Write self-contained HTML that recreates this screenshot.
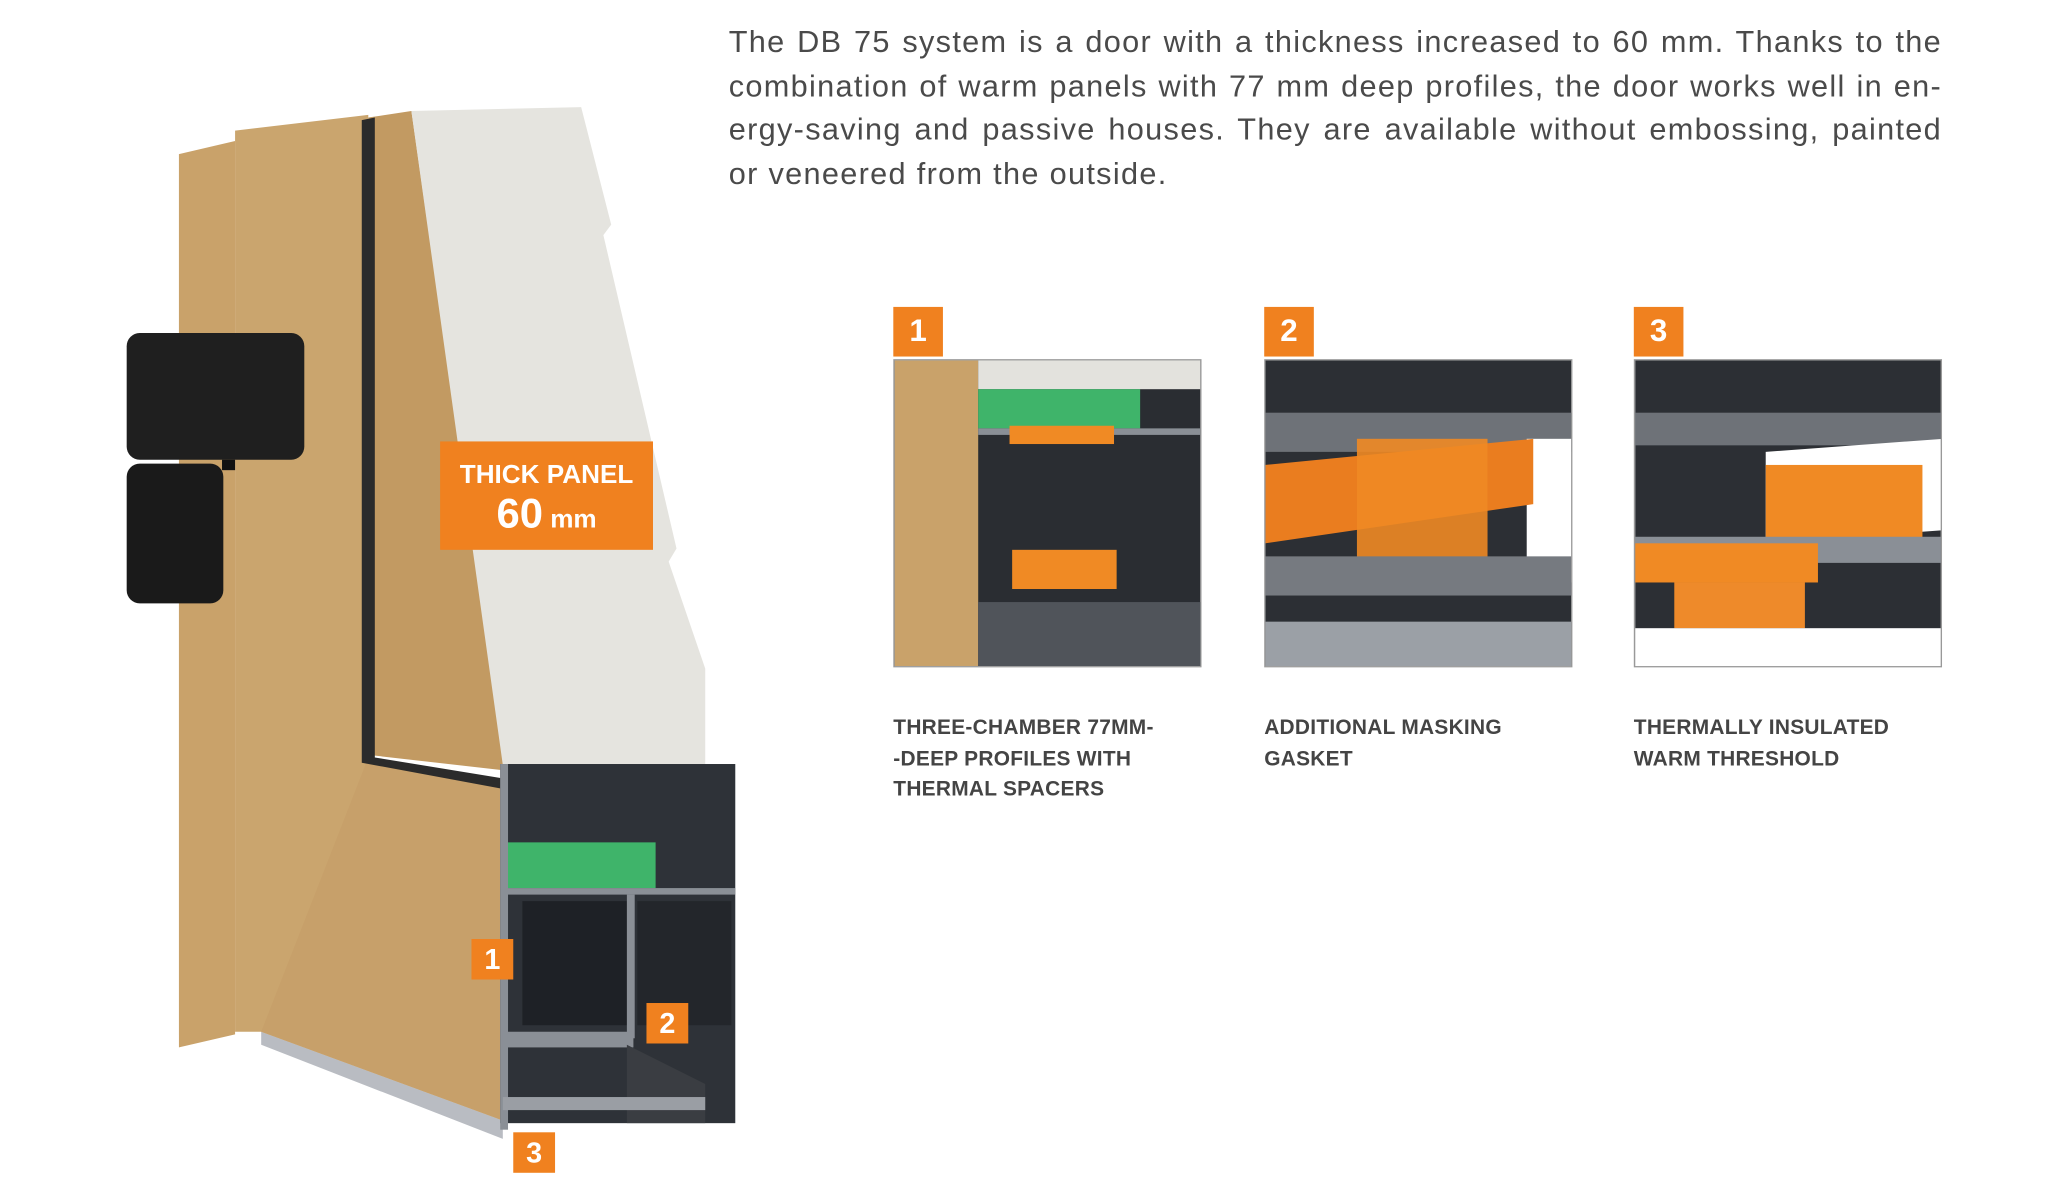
<!DOCTYPE html>
<html><head><meta charset="utf-8"><style>
html,body{margin:0;padding:0;background:#fff;width:2048px;height:1190px;overflow:hidden}
#w{position:absolute;left:0;top:0;width:1570px;height:912px;transform:scale(1.306);transform-origin:0 0;font-family:"Liberation Sans",sans-serif}
.p{position:absolute;left:558px;top:16px;width:929px;font-size:23.5px;line-height:33.5px;color:#4a4a4a;letter-spacing:1px}
.p div{text-align:justify;text-align-last:justify;white-space:nowrap}
.p div.l{text-align-last:left}
.b{position:absolute;background:#f0811f;color:#fff;font-weight:bold;text-align:center}
.cap{position:absolute;top:546px;font-size:16px;line-height:23.5px;font-weight:bold;color:#444;letter-spacing:0.2px}
.th{position:absolute;top:275px;width:236px;height:236px;border:1px solid #999;box-sizing:border-box;overflow:hidden}
</style></head><body><div id="w">
<div class="p"><div>The DB 75 system is a door with a thickness increased to 60 mm. Thanks to the</div><div>combination of warm panels with 77 mm deep profiles, the door works well in en-</div><div>ergy-saving and passive houses. They are available without embossing, painted</div><div class="l">or veneered from the outside.</div></div>

<svg style="position:absolute;left:0;top:0" width="620" height="906">
<polygon points="200,790 385,858 385,872 200,800" fill="#b9bcc2"/>
<polygon points="137,118 180,108 180,792 137,802" fill="#c9a26a"/>
<polygon points="180,100 282,88 282,580 385,600 385,858 200,790 180,790" fill="#caa56e"/>
<polygon points="282,580 385,600 385,858 200,790" fill="#c7a06a"/>
<polygon points="282,90 315,85 387,590 282,578" fill="#c29a62"/>
<polygon points="277,92 287,90 287,580 385,596 385,604 277,584" fill="#2b2b2b"/>
<polygon points="315,85 445,82 468,172 462,180 518,420 512,430 540,512 540,645 387,645 387,600" fill="#e5e4df"/>
<rect x="383" y="585" width="180" height="275" fill="#2e3238"/>
<rect x="385" y="645" width="117" height="35" fill="#3fb46a"/>
<rect x="385" y="680" width="178" height="5" fill="#8a8f96"/>
<rect x="400" y="690" width="80" height="95" fill="#1e2126"/>
<rect x="488" y="690" width="72" height="95" fill="#23262b"/>
<rect x="383" y="585" width="6" height="280" fill="#8a8f96"/>
<rect x="480" y="685" width="6" height="110" fill="#8a8f96"/>
<rect x="385" y="790" width="100" height="12" fill="#8a8f96"/>
<polygon points="480,800 540,830 540,860 480,860" fill="#3a3d42"/>
<rect x="385" y="840" width="155" height="10" fill="#9a9ea4"/>
<rect x="97" y="255" width="136" height="97" rx="10" fill="#1f1f1f"/>
<rect x="97" y="355" width="74" height="107" rx="10" fill="#1a1a1a"/>
<rect x="170" y="352" width="10" height="8" fill="#111"/>
</svg>

<div class="b" style="left:337px;top:338px;width:163px;height:83px">
<div style="font-size:20px;margin-top:14px;line-height:24px">THICK PANEL</div>
<div style="font-size:32px;line-height:34px">60<span style="font-size:20px"> mm</span></div></div>
<div class="b" style="left:361px;top:719px;width:32px;height:31px;font-size:22px;line-height:31px">1</div>
<div class="b" style="left:495px;top:768px;width:32px;height:31px;font-size:22px;line-height:31px">2</div>
<div class="b" style="left:393px;top:867px;width:32px;height:31px;font-size:22px;line-height:31px">3</div>

<div class="b" style="left:684px;top:235px;width:38px;height:38px;font-size:24px;line-height:38px">1</div>
<div class="b" style="left:968px;top:235px;width:38px;height:38px;font-size:24px;line-height:38px">2</div>
<div class="b" style="left:1251px;top:235px;width:38px;height:38px;font-size:24px;line-height:38px">3</div>

<div class="th" style="left:684px"><svg width="236" height="236">
<rect width="236" height="236" fill="#2a2d32"/>
<rect x="0" y="0" width="64" height="236" fill="#c9a26a"/>
<rect x="64" y="0" width="172" height="22" fill="#e3e2dd"/>
<rect x="64" y="22" width="124" height="30" fill="#3fb46a"/>
<rect x="64" y="52" width="172" height="5" fill="#8a8f96"/>
<rect x="88" y="50" width="80" height="14" fill="#f08a24"/>
<rect x="90" y="145" width="80" height="30" fill="#f08a24"/>
<rect x="64" y="185" width="172" height="51" fill="#50545a"/>
</svg></div>
<div class="th" style="left:968px"><svg width="236" height="236">
<rect width="236" height="236" fill="#2c2f34"/>
<rect x="0" y="40" width="236" height="30" fill="#6e7278"/>
<rect x="200" y="60" width="36" height="110" fill="#fff"/>
<polygon points="0,80 205,60 205,110 0,140" fill="#ea7d1f"/>
<rect x="70" y="60" width="100" height="110" fill="#f08a24" opacity=".9"/>
<rect x="0" y="150" width="236" height="30" fill="#767a80"/>
<rect x="0" y="200" width="236" height="36" fill="#9ba0a6"/>
</svg></div>
<div class="th" style="left:1251px"><svg width="236" height="236">
<rect width="236" height="236" fill="#2c2f34"/>
<rect x="0" y="40" width="236" height="25" fill="#6e7278"/>
<polygon points="100,70 236,60 236,130 100,140" fill="#fff"/>
<rect x="100" y="80" width="120" height="60" fill="#f08a24"/>
<rect x="0" y="135" width="236" height="20" fill="#8a8f96"/>
<rect x="0" y="140" width="140" height="30" fill="#f08a24"/>
<rect x="30" y="170" width="100" height="35" fill="#ee8a2a"/>
<rect x="0" y="205" width="236" height="31" fill="#fff"/>
</svg></div>

<div class="cap" style="left:684px">THREE-CHAMBER 77MM-<br>-DEEP PROFILES WITH<br>THERMAL SPACERS</div>
<div class="cap" style="left:968px">ADDITIONAL MASKING<br>GASKET</div>
<div class="cap" style="left:1251px">THERMALLY INSULATED<br>WARM THRESHOLD</div>
</div></body></html>
